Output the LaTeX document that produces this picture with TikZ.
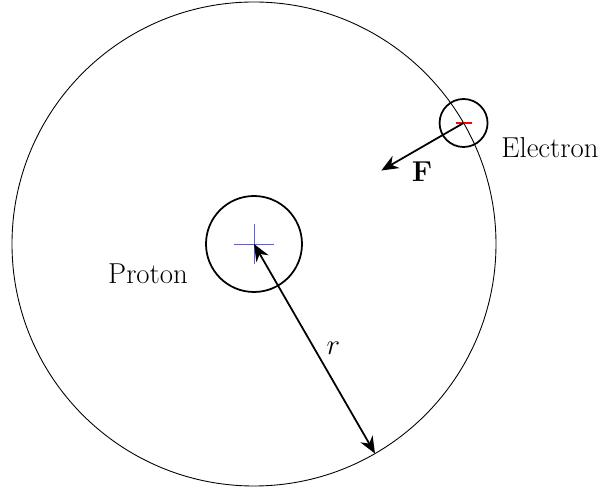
\RequirePackage{fix-cm}
\documentclass[tikz,border=0pt]{standalone}
\usepackage{amsmath,amssymb}
\usepackage{xcolor}
\usepackage{tikz}
\usetikzlibrary{arrows.meta, positioning, calc}
\tikzset{
  orbitline/.style={
    draw, line width=0.5pt
  },
  chargebox/.style={
    circle, draw, line width=1pt, inner sep=0pt
  },
  pluscross/.style={
    draw=blue!65, line width=0.5pt
  },
  minusbar/.style={
    draw=red, line width=1.6pt
  },
  forcearrow/.style={
    -{Stealth[length=3.4mm, width=2.8mm]}, line width=1pt
  },
  radiusarrow/.style={
    {Stealth[length=3.4mm, width=2.8mm]}-{Stealth[length=3.4mm, width=2.8mm]}, line width=1pt
  },
  partlabel/.style={
    font=\fontsize{16.4}{19}\selectfont
  },
}
\begin{document}
\begin{tikzpicture}
  \useasboundingbox (-5.08,-4.94) rectangle (6.92,4.88);
  % Orbit
  \draw[orbitline] (0,0) circle (4.84);
  % Proton
  \node[chargebox, minimum size=1.92cm] (proton) at (0,0) {};
  \draw[pluscross] ($(proton.center)+(-0.4,0)$) -- ($(proton.center)+(0.4,0)$);
  \draw[pluscross] ($(proton.center)+(0,-0.4)$) -- ($(proton.center)+(0,0.4)$);
  \node[partlabel] (protonlabel) at (-2.12,-0.6) {Proton};
  % Electron
  \node[chargebox, minimum size=0.96cm] (electron) at (30:4.84) {};
  \draw[minusbar] ($(electron.center)+(-0.16,0)$) -- ($(electron.center)+(0.16,0)$);
  \node[partlabel] (electronlabel) at (5.92,1.92) {Electron};
  % Force
  \coordinate (forceend) at (30:2.94);
  \draw[forcearrow] (electron.center) -- (forceend);
  \node[partlabel] (forcelabel) at (3.36,1.44) {$\mathbf{F}$};
  % Radius
  \coordinate (rim) at (-60:4.84);
  \draw[radiusarrow] (proton.center) -- (rim)
    node[midway, right=3pt, partlabel] (rlabel) {$r$};
\end{tikzpicture}
\end{document}
